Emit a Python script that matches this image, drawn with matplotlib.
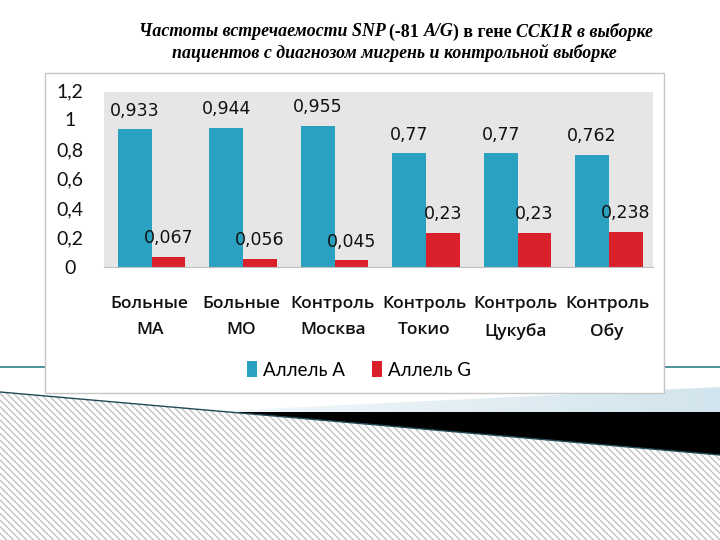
import numpy as np
import matplotlib
matplotlib.use("Agg")
import matplotlib.pyplot as plt
from matplotlib.patches import Rectangle, Polygon

# data
groups = ["Больные\nМА", "Больные\nМО", "Контроль\nМосква",
          "Контроль\nТокио", "Контроль\nЦукуба", "Контроль\nОбу"]
allele_a = [0.933, 0.944, 0.955, 0.77, 0.77, 0.762]
allele_g = [0.067, 0.056, 0.045, 0.23, 0.23, 0.238]
series_names = ["Аллель A", "Аллель G"]
yticks = [0, 0.2, 0.4, 0.6, 0.8, 1.0, 1.2]
ytick_labels = ["0", "0,2", "0,4", "0,6", "0,8", "1", "1,2"]

title_line1 = [("Частоты встречаемости SNP ", "italic"), ("(-81 ", "normal"),
               ("A/G", "italic"), (") в гене ", "normal"), ("CCK1R в выборке", "italic")]
title_line2 = "пациентов с диагнозом мигрень и контрольной выборке"

BLUE = "#2aa1c0"
RED = "#d9202b"

plt.rcParams["hatch.linewidth"] = 1.0
plt.rcParams["hatch.color"] = "#c2c2c2"

W, H = 720, 540
fig = plt.figure(figsize=(7.2, 5.4), dpi=100)

# slide background in pixel coords
bg = fig.add_axes([0, 0, 1, 1])
bg.set_xlim(0, W)
bg.set_ylim(H, 0)
bg.axis("off")

# teal rule behind the chart box
bg.plot([0, W], [367, 367], color="#2f7f8e", lw=1.2, zorder=1)

# light blue fading wedge
wedge = Polygon([[200, 412], [720, 387], [720, 412]], closed=True,
                facecolor="none", edgecolor="none", zorder=1)
bg.add_patch(wedge)
grad = np.linspace(0, 1, 256).reshape(1, -1)
im = bg.imshow(grad, extent=[200, 720, 412, 387], aspect="auto",
               cmap=matplotlib.colors.LinearSegmentedColormap.from_list(
                   "fade", ["#f4f9fb", "#d2e4ed"]), zorder=1)
im.set_clip_path(wedge)

# black wedge
bg.add_patch(Polygon([[229, 412], [720, 412], [720, 455]], closed=True,
                     facecolor="black", edgecolor="none", zorder=2))

# hatched area
bg.add_patch(Polygon([[0, 392], [720, 455], [720, 540], [0, 540]], closed=True,
                     facecolor="white", edgecolor="#c2c2c2", hatch="\\\\\\\\\\",
                     lw=0, zorder=2))
bg.plot([0, 720], [392, 455], color="#1f4a55", lw=1.0, zorder=3)

# chart box
bg.add_patch(Rectangle((45, 73), 619, 320, facecolor="white",
                       edgecolor="#c6c6c6", lw=1, zorder=4))
# plot area background (starts a bit below the 1,2 gridline)
bg.add_patch(Rectangle((104, 92), 549, 175, facecolor="#e6e6e6",
                       edgecolor="none", zorder=4.5))

# title with mixed styles
fig.canvas.draw()
renderer = fig.canvas.get_renderer()
tfont = dict(family="Liberation Serif", weight="bold", size=12.9)
pieces = []
for txt, st in title_line1:
    pieces.append(fig.text(0, 0, txt, fontstyle=st, va="center", ha="left", **tfont))
widths = [t.get_window_extent(renderer).width for t in pieces]
xstart = 396 - sum(widths) / 2
for t, w in zip(pieces, widths):
    t.set_position((xstart / W, 1 - 32 / H))
    xstart += w
fig.text(394 / W, 1 - 53 / H, title_line2, fontstyle="italic",
         va="center", ha="center", **tfont)

# bar chart
ax = fig.add_axes([104 / W, 1 - 267 / H, (653 - 104) / W, (267 - 90) / H])
ax.set_zorder(5)
ax.patch.set_alpha(0)
x = np.arange(len(groups))
bw = 0.37
b1 = ax.bar(x - 0.35, allele_a, width=bw, align="edge", color=BLUE,
            label=series_names[0])
b2 = ax.bar(x + 0.02, allele_g, width=bw, align="edge", color=RED,
            label=series_names[1])
for bars, vals in ((b1, allele_a), (b2, allele_g)):
    for rect, v in zip(bars, vals):
        ax.annotate(f"{v:g}".replace(".", ","),
                    (rect.get_x() + rect.get_width() / 2, rect.get_height()),
                    xytext=(0, 13.5), textcoords="offset points",
                    ha="center", va="center", fontsize=12.5,
                    family="DejaVu Sans", color="#111111")

ax.set_xlim(-0.5, len(groups) - 0.5)
ax.set_ylim(0, 1.2)
ax.set_yticks(yticks)
ax.set_yticklabels(ytick_labels, fontsize=14, family="Lato", color="#111111")
for lab in ax.get_yticklabels():
    lab.set_horizontalalignment("center")
ax.tick_params(axis="y", length=0, pad=24.5)
ax.set_xticks(x)
ax.set_xticklabels(groups, fontsize=12.5, family="Open Sans", weight="semibold",
                   color="#111111", linespacing=1.85)
ax.tick_params(axis="x", length=0, pad=21)
for s in ("top", "right", "left"):
    ax.spines[s].set_visible(False)
ax.spines["bottom"].set_color("#c0c0c0")

leg = fig.legend(handles=[b1, b2], labels=series_names, loc="center",
                 bbox_to_anchor=(359 / W, 1 - 370 / H), ncol=2, frameon=False,
                 handlelength=0.55, handleheight=0.9, handletextpad=0.35,
                 columnspacing=1.4, prop={"family": "Lato", "size": 13.5})
leg.set_zorder(6)

fig.savefig("out.png", dpi=100)
